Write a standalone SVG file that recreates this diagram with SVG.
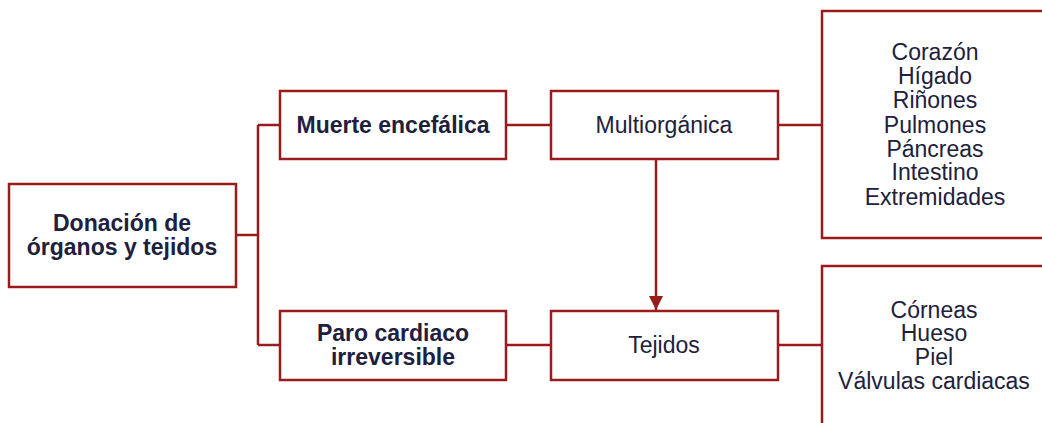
<svg xmlns="http://www.w3.org/2000/svg" width="1042" height="423" viewBox="0 0 1042 423">
<defs>
<style>
.box{fill:#fff;stroke:#9a1b1b;stroke-width:2.5}
.ln{fill:none;stroke:#9a1b1b;stroke-width:2.5}
.t{font-family:"Liberation Sans",Arial,sans-serif;font-size:23px;fill:#20203c;text-anchor:middle}
.b{font-weight:bold}
</style>
<marker id="ah" viewBox="0 0 14 14" refX="14" refY="7" markerWidth="14" markerHeight="14" orient="auto" markerUnits="userSpaceOnUse">
<path d="M0,0 L14,7 L0,14 z" fill="#9a1b1b"/>
</marker>
</defs>
<g id="connectors">
<path class="ln" d="M236,235 H258 M258,125 V345 M258,125 H280 M258,345 H280"/>
<path class="ln" d="M506,125 H551 M778,125 H822"/>
<path class="ln" d="M506,345 H551 M778,345 H822"/>
<path class="ln" d="M656,159 V310" stroke-width="3.5" marker-end="url(#ah)"/>
</g>
<g id="donacion">
<rect class="box" x="9" y="184" width="227" height="103"/>
<text class="t b" x="122" y="231">Donación de</text>
<text class="t b" x="122" y="255">órganos y tejidos</text>
</g>
<g id="muerte">
<rect class="box" x="280" y="91" width="226" height="68"/>
<text class="t b" x="393" y="133">Muerte encefálica</text>
</g>
<g id="multiorganica">
<rect class="box" x="551" y="91" width="227" height="68"/>
<text class="t" x="664" y="133">Multiorgánica</text>
</g>
<g id="organos">
<rect class="box" x="822" y="11" width="226" height="227"/>
<text class="t" x="935" y="60">Corazón</text>
<text class="t" x="935" y="84">Hígado</text>
<text class="t" x="935" y="108">Riñones</text>
<text class="t" x="935" y="133">Pulmones</text>
<text class="t" x="935" y="157">Páncreas</text>
<text class="t" x="935" y="180">Intestino</text>
<text class="t" x="935" y="205">Extremidades</text>
</g>
<g id="paro">
<rect class="box" x="280" y="311" width="226" height="69"/>
<text class="t b" x="393" y="341">Paro cardiaco</text>
<text class="t b" x="393" y="365">irreversible</text>
</g>
<g id="tejidos">
<rect class="box" x="551" y="311" width="227" height="69"/>
<text class="t" x="664" y="353">Tejidos</text>
</g>
<g id="tejidos-lista">
<rect class="box" x="822" y="266" width="226" height="170"/>
<text class="t" x="934" y="318">Córneas</text>
<text class="t" x="934" y="341">Hueso</text>
<text class="t" x="934" y="365">Piel</text>
<text class="t" x="934" y="389">Válvulas cardiacas</text>
</g>
</svg>
